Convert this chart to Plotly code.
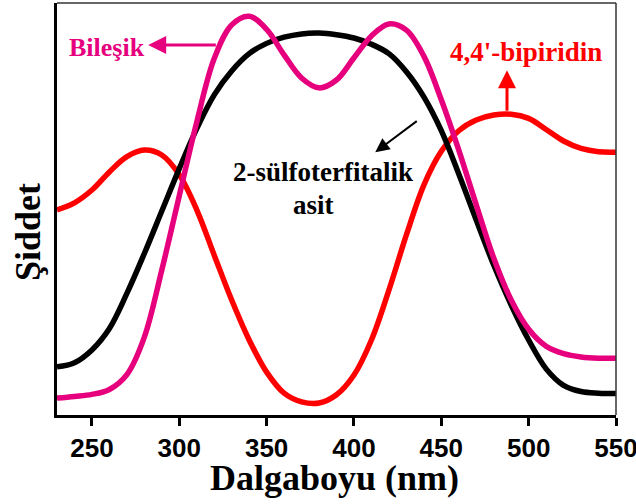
import plotly.graph_objects as go

wavelength = [230, 240, 250, 260, 270, 280, 290, 300, 310, 320, 330, 340, 350, 360, 370, 380,
              390, 400, 410, 420, 430, 440, 450, 460, 470, 480, 490, 500, 510, 520, 530, 540, 550]

asit = [0.117, 0.127, 0.158, 0.210, 0.295, 0.392, 0.495, 0.598, 0.695, 0.777, 0.835, 0.877,
        0.902, 0.917, 0.925, 0.927, 0.923, 0.915, 0.900, 0.877, 0.833, 0.772, 0.690, 0.585,
        0.473, 0.364, 0.267, 0.182, 0.112, 0.072, 0.057, 0.053, 0.052]

bilesik = [0.041, 0.045, 0.050, 0.062, 0.098, 0.189, 0.352, 0.532, 0.711, 0.865, 0.947, 0.968,
           0.936, 0.874, 0.818, 0.794, 0.813, 0.867, 0.920, 0.949, 0.934, 0.871, 0.765, 0.643,
           0.510, 0.381, 0.279, 0.208, 0.167, 0.149, 0.141, 0.138, 0.138]

bipiridin = [0.498, 0.515, 0.546, 0.590, 0.627, 0.643, 0.631, 0.583, 0.498, 0.388, 0.279, 0.182,
             0.104, 0.053, 0.032, 0.029, 0.049, 0.097, 0.182, 0.303, 0.437, 0.558, 0.640, 0.690,
             0.716, 0.728, 0.730, 0.720, 0.693, 0.665, 0.647, 0.639, 0.638]

x_ticks = [250, 300, 350, 400, 450, 500, 550]

PINK = "#E6007E"
RED = "#FF0000"
SERIF = "Liberation Serif, Times New Roman, serif"
SANS = "Liberation Sans, Arial, sans-serif"

fig = go.Figure()
fig.add_trace(go.Scatter(x=wavelength, y=bipiridin, mode="lines", line=dict(color=RED, width=5.5, shape="spline", smoothing=1.0), showlegend=False))
fig.add_trace(go.Scatter(x=wavelength, y=asit, mode="lines", line=dict(color="black", width=5.5, shape="spline", smoothing=1.0), showlegend=False))
fig.add_trace(go.Scatter(x=wavelength, y=bilesik, mode="lines", line=dict(color=PINK, width=5.5, shape="spline", smoothing=1.0), showlegend=False))

ann = []
# Labels
ann.append(dict(x=258.5, y=0.893, xref="x", yref="y", text="<b>Bileşik</b>", showarrow=False,
                font=dict(family=SERIF, size=26, color=PINK)))
ann.append(dict(x=498.3, y=0.881, xref="x", yref="y", text="<b>4,4'-bipiridin</b>", showarrow=False,
                font=dict(family=SERIF, size=27, color=RED)))
ann.append(dict(x=382.1, y=0.590, xref="x", yref="y", text="<b>2-sülfoterfitalik</b>", showarrow=False,
                font=dict(family=SERIF, size=27, color="black")))
ann.append(dict(x=376.7, y=0.510, xref="x", yref="y", text="<b>asit</b>", showarrow=False,
                font=dict(family=SERIF, size=27, color="black")))
# Arrows
ann.append(dict(x=282.2, y=0.898, ax=321.8, ay=0.898, xref="x", yref="y", axref="x", ayref="y",
                text="", showarrow=True, arrowhead=2, arrowsize=1.2, arrowwidth=3, arrowcolor=PINK))
ann.append(dict(x=487.6, y=0.837, ax=487.6, ay=0.735, xref="x", yref="y", axref="x", ayref="y",
                text="", showarrow=True, arrowhead=2, arrowsize=1.2, arrowwidth=3, arrowcolor=RED))
ann.append(dict(x=412.2, y=0.638, ax=436.8, ay=0.716, xref="x", yref="y", axref="x", ayref="y",
                text="", showarrow=True, arrowhead=2, arrowsize=1.4, arrowwidth=2, arrowcolor="black"))
# Axis titles
ann.append(dict(x=0.497, y=-0.153, xref="paper", yref="paper", xanchor="center", yanchor="middle",
                text="<b>Dalgaboyu (nm)</b>", showarrow=False,
                font=dict(family=SERIF, size=36, color="black")))
ann.append(dict(x=-0.052, y=0.444, xref="paper", yref="paper", xanchor="center", yanchor="middle",
                text="<b>Şiddet</b>", showarrow=False, textangle=-90,
                font=dict(family=SERIF, size=36, color="black")))

fig.update_layout(
    width=636, height=504,
    margin=dict(l=57, r=20, t=3, b=89, autoexpand=False),
    plot_bgcolor="white", paper_bgcolor="white",
    annotations=ann,
    shapes=[
        dict(type="line", xref="paper", yref="paper", x0=0, x1=1, y0=1, y1=1, line=dict(color="#333333", width=1.5)),
        dict(type="line", xref="paper", yref="paper", x0=1, x1=1, y0=0, y1=1, line=dict(color="#333333", width=1.5)),
    ],
)
fig.update_xaxes(range=[230, 550], tickvals=x_ticks, ticktext=[f"<b>{t}</b>" for t in x_ticks],
                 ticks="outside", ticklen=8, tickwidth=3, tickcolor="black", automargin=False,
                 ticklabeloverflow="allow",
                 tickfont=dict(family=SANS, size=26, color="black"),
                 showline=True, linecolor="black", linewidth=3, showgrid=False, zeroline=False)
fig.update_yaxes(range=[0, 1], showticklabels=False, ticks="", showline=True, linecolor="black", linewidth=3,
                 showgrid=False, zeroline=False, automargin=False)

fig.write_html("out.html", config={"displayModeBar": False},
               post_script="document.body.style.margin='0';document.body.style.overflow='hidden';")
